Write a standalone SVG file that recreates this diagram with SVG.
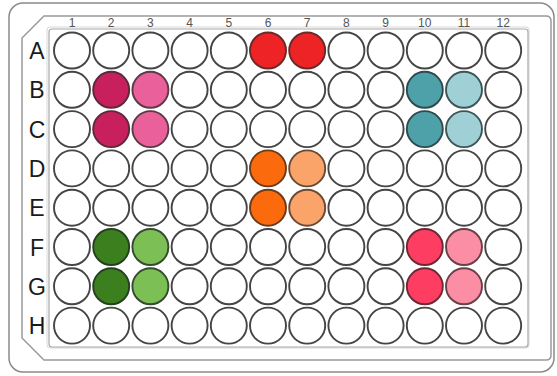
<svg xmlns="http://www.w3.org/2000/svg" width="557" height="376" viewBox="0 0 557 376">
<style>
.frame{fill:#fff;stroke:#8a8a8a;stroke-width:1.5}
.frame2{fill:none;stroke:#9a9a9a;stroke-width:1.5}
.inner{fill:none;stroke:#a8a8a8;stroke-width:1.2}
.innerb{fill:none;stroke:#d8d8d8;stroke-width:1}
circle{stroke:#454545;stroke-width:1.9;fill:#fff}
.num{font-family:"Liberation Sans",Arial,sans-serif;font-size:12px;fill:#555;text-anchor:middle}
.let{font-family:"Liberation Sans",Arial,sans-serif;font-size:23px;fill:#1a1a1a;text-anchor:middle}
.red{fill:#ee2326;stroke:#6a2a2a}
.mag{fill:#c8205c;stroke:#5a2a3a}
.pnk{fill:#e9609a;stroke:#5a3a45}
.tea{fill:#4ea1a8;stroke:#2e4a4e}
.lte{fill:#9fd0d6;stroke:#3e5558}
.org{fill:#fb6a0c;stroke:#6a3a1a}
.lor{fill:#fba46a;stroke:#6a4a35}
.dgr{fill:#3b7f1f;stroke:#254020}
.lgr{fill:#7cbf55;stroke:#354a30}
.prd{fill:#fd3d62;stroke:#6a2a35}
.lpk{fill:#fb8da5;stroke:#6a4048}
</style>
<g id="plate">
<rect class="frame" x="9" y="3" width="545" height="369" rx="14"/>
<path class="frame2" d="M44,16 H546 Q551,16 551,21 V355 Q551,360 546,360 H44 L22,338 V38 Z"/>
<rect class="innerb" x="47" y="27" width="482" height="321" rx="3"/>
<rect class="inner" x="49" y="29" width="479" height="318" rx="3"/>
</g>
<g id="col-labels">
<text class="num" x="72" y="27">1</text>
<text class="num" x="111.2" y="27">2</text>
<text class="num" x="150.4" y="27">3</text>
<text class="num" x="189.6" y="27">4</text>
<text class="num" x="228.8" y="27">5</text>
<text class="num" x="268" y="27">6</text>
<text class="num" x="307.2" y="27">7</text>
<text class="num" x="346.4" y="27">8</text>
<text class="num" x="385.6" y="27">9</text>
<text class="num" x="424.8" y="27">10</text>
<text class="num" x="464" y="27">11</text>
<text class="num" x="503.2" y="27">12</text>
</g>
<g id="row-labels">
<text class="let" x="37" y="59">A</text>
<text class="let" x="37" y="98.3">B</text>
<text class="let" x="37" y="137.6">C</text>
<text class="let" x="37" y="176.9">D</text>
<text class="let" x="37" y="216.2">E</text>
<text class="let" x="37" y="255.5">F</text>
<text class="let" x="37" y="294.8">G</text>
<text class="let" x="37" y="334.1">H</text>
</g>
<g id="row-A">
<g id="A1"><circle cx="72" cy="50.5" r="18"/></g>
<g id="A2"><circle cx="111.2" cy="50.5" r="18"/></g>
<g id="A3"><circle cx="150.4" cy="50.5" r="18"/></g>
<g id="A4"><circle cx="189.6" cy="50.5" r="18"/></g>
<g id="A5"><circle cx="228.8" cy="50.5" r="18"/></g>
<g id="A6"><circle class="red" cx="268" cy="50.5" r="18"/></g>
<g id="A7"><circle class="red" cx="307.2" cy="50.5" r="18"/></g>
<g id="A8"><circle cx="346.4" cy="50.5" r="18"/></g>
<g id="A9"><circle cx="385.6" cy="50.5" r="18"/></g>
<g id="A10"><circle cx="424.8" cy="50.5" r="18"/></g>
<g id="A11"><circle cx="464" cy="50.5" r="18"/></g>
<g id="A12"><circle cx="503.2" cy="50.5" r="18"/></g>
</g>
<g id="row-B">
<g id="B1"><circle cx="72" cy="89.8" r="18"/></g>
<g id="B2"><circle class="mag" cx="111.2" cy="89.8" r="18"/></g>
<g id="B3"><circle class="pnk" cx="150.4" cy="89.8" r="18"/></g>
<g id="B4"><circle cx="189.6" cy="89.8" r="18"/></g>
<g id="B5"><circle cx="228.8" cy="89.8" r="18"/></g>
<g id="B6"><circle cx="268" cy="89.8" r="18"/></g>
<g id="B7"><circle cx="307.2" cy="89.8" r="18"/></g>
<g id="B8"><circle cx="346.4" cy="89.8" r="18"/></g>
<g id="B9"><circle cx="385.6" cy="89.8" r="18"/></g>
<g id="B10"><circle class="tea" cx="424.8" cy="89.8" r="18"/></g>
<g id="B11"><circle class="lte" cx="464" cy="89.8" r="18"/></g>
<g id="B12"><circle cx="503.2" cy="89.8" r="18"/></g>
</g>
<g id="row-C">
<g id="C1"><circle cx="72" cy="129.1" r="18"/></g>
<g id="C2"><circle class="mag" cx="111.2" cy="129.1" r="18"/></g>
<g id="C3"><circle class="pnk" cx="150.4" cy="129.1" r="18"/></g>
<g id="C4"><circle cx="189.6" cy="129.1" r="18"/></g>
<g id="C5"><circle cx="228.8" cy="129.1" r="18"/></g>
<g id="C6"><circle cx="268" cy="129.1" r="18"/></g>
<g id="C7"><circle cx="307.2" cy="129.1" r="18"/></g>
<g id="C8"><circle cx="346.4" cy="129.1" r="18"/></g>
<g id="C9"><circle cx="385.6" cy="129.1" r="18"/></g>
<g id="C10"><circle class="tea" cx="424.8" cy="129.1" r="18"/></g>
<g id="C11"><circle class="lte" cx="464" cy="129.1" r="18"/></g>
<g id="C12"><circle cx="503.2" cy="129.1" r="18"/></g>
</g>
<g id="row-D">
<g id="D1"><circle cx="72" cy="168.4" r="18"/></g>
<g id="D2"><circle cx="111.2" cy="168.4" r="18"/></g>
<g id="D3"><circle cx="150.4" cy="168.4" r="18"/></g>
<g id="D4"><circle cx="189.6" cy="168.4" r="18"/></g>
<g id="D5"><circle cx="228.8" cy="168.4" r="18"/></g>
<g id="D6"><circle class="org" cx="268" cy="168.4" r="18"/></g>
<g id="D7"><circle class="lor" cx="307.2" cy="168.4" r="18"/></g>
<g id="D8"><circle cx="346.4" cy="168.4" r="18"/></g>
<g id="D9"><circle cx="385.6" cy="168.4" r="18"/></g>
<g id="D10"><circle cx="424.8" cy="168.4" r="18"/></g>
<g id="D11"><circle cx="464" cy="168.4" r="18"/></g>
<g id="D12"><circle cx="503.2" cy="168.4" r="18"/></g>
</g>
<g id="row-E">
<g id="E1"><circle cx="72" cy="207.7" r="18"/></g>
<g id="E2"><circle cx="111.2" cy="207.7" r="18"/></g>
<g id="E3"><circle cx="150.4" cy="207.7" r="18"/></g>
<g id="E4"><circle cx="189.6" cy="207.7" r="18"/></g>
<g id="E5"><circle cx="228.8" cy="207.7" r="18"/></g>
<g id="E6"><circle class="org" cx="268" cy="207.7" r="18"/></g>
<g id="E7"><circle class="lor" cx="307.2" cy="207.7" r="18"/></g>
<g id="E8"><circle cx="346.4" cy="207.7" r="18"/></g>
<g id="E9"><circle cx="385.6" cy="207.7" r="18"/></g>
<g id="E10"><circle cx="424.8" cy="207.7" r="18"/></g>
<g id="E11"><circle cx="464" cy="207.7" r="18"/></g>
<g id="E12"><circle cx="503.2" cy="207.7" r="18"/></g>
</g>
<g id="row-F">
<g id="F1"><circle cx="72" cy="247" r="18"/></g>
<g id="F2"><circle class="dgr" cx="111.2" cy="247" r="18"/></g>
<g id="F3"><circle class="lgr" cx="150.4" cy="247" r="18"/></g>
<g id="F4"><circle cx="189.6" cy="247" r="18"/></g>
<g id="F5"><circle cx="228.8" cy="247" r="18"/></g>
<g id="F6"><circle cx="268" cy="247" r="18"/></g>
<g id="F7"><circle cx="307.2" cy="247" r="18"/></g>
<g id="F8"><circle cx="346.4" cy="247" r="18"/></g>
<g id="F9"><circle cx="385.6" cy="247" r="18"/></g>
<g id="F10"><circle class="prd" cx="424.8" cy="247" r="18"/></g>
<g id="F11"><circle class="lpk" cx="464" cy="247" r="18"/></g>
<g id="F12"><circle cx="503.2" cy="247" r="18"/></g>
</g>
<g id="row-G">
<g id="G1"><circle cx="72" cy="286.3" r="18"/></g>
<g id="G2"><circle class="dgr" cx="111.2" cy="286.3" r="18"/></g>
<g id="G3"><circle class="lgr" cx="150.4" cy="286.3" r="18"/></g>
<g id="G4"><circle cx="189.6" cy="286.3" r="18"/></g>
<g id="G5"><circle cx="228.8" cy="286.3" r="18"/></g>
<g id="G6"><circle cx="268" cy="286.3" r="18"/></g>
<g id="G7"><circle cx="307.2" cy="286.3" r="18"/></g>
<g id="G8"><circle cx="346.4" cy="286.3" r="18"/></g>
<g id="G9"><circle cx="385.6" cy="286.3" r="18"/></g>
<g id="G10"><circle class="prd" cx="424.8" cy="286.3" r="18"/></g>
<g id="G11"><circle class="lpk" cx="464" cy="286.3" r="18"/></g>
<g id="G12"><circle cx="503.2" cy="286.3" r="18"/></g>
</g>
<g id="row-H">
<g id="H1"><circle cx="72" cy="325.6" r="18"/></g>
<g id="H2"><circle cx="111.2" cy="325.6" r="18"/></g>
<g id="H3"><circle cx="150.4" cy="325.6" r="18"/></g>
<g id="H4"><circle cx="189.6" cy="325.6" r="18"/></g>
<g id="H5"><circle cx="228.8" cy="325.6" r="18"/></g>
<g id="H6"><circle cx="268" cy="325.6" r="18"/></g>
<g id="H7"><circle cx="307.2" cy="325.6" r="18"/></g>
<g id="H8"><circle cx="346.4" cy="325.6" r="18"/></g>
<g id="H9"><circle cx="385.6" cy="325.6" r="18"/></g>
<g id="H10"><circle cx="424.8" cy="325.6" r="18"/></g>
<g id="H11"><circle cx="464" cy="325.6" r="18"/></g>
<g id="H12"><circle cx="503.2" cy="325.6" r="18"/></g>
</g>
<g id="connectors"/>
</svg>
